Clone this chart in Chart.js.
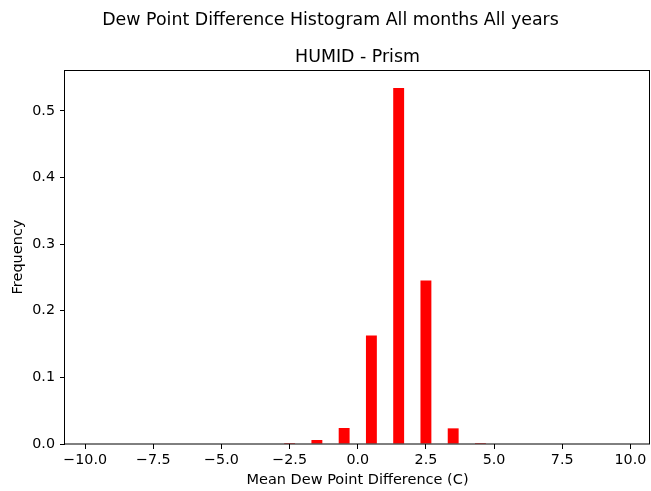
<!DOCTYPE html>
<html>
<head>
<meta charset="utf-8">
<script src="https://cdn.jsdelivr.net/npm/chart.js@4/dist/chart.umd.min.js"></script>
<style>
  html, body { margin: 0; padding: 0; background: #fff; }
  #wrap { width: 651px; height: 491px; }
</style>
</head>
<body>
<div id="wrap"><canvas id="histChart" width="651" height="491"></canvas></div>
<script>
// bin centres (C) and relative frequency
const binCenters = [-2.5, -1.5, -0.5, 0.5, 1.5, 2.5, 3.5, 4.5];
const frequency = [0.0015, 0.006, 0.024, 0.163, 0.5345, 0.2455, 0.0235, 0.0015];

const suptitle = "Dew Point Difference Histogram All months All years";
const plotTitle = "HUMID - Prism";
const xLabel = "Mean Dew Point Difference (C)";
const yLabel = "Frequency";

const FONT = "'DejaVu Sans', sans-serif";

function fmtTick(v) {
  let s = Number(v).toFixed(1);
  if (s === "-0.0") s = "0.0";
  return s.replace("-", "\u2212");
}

const framePlugin = {
  id: "frame",
  afterDraw(chart) {
    const { ctx, chartArea } = chart;
    ctx.save();
    ctx.strokeStyle = "#000";
    ctx.lineWidth = 1;
    ctx.strokeRect(chartArea.left - 0.5, chartArea.top + 0.5,
      chartArea.right - chartArea.left, chartArea.bottom - chartArea.top - 0.5);
    ctx.fillStyle = "#000";
    ctx.textAlign = "center";
    ctx.textBaseline = "alphabetic";
    ctx.font = "17.4px " + FONT;
    ctx.fillText(suptitle, 330.5, 25);
    ctx.fillText(plotTitle, (chartArea.left + chartArea.right) / 2, 62);
    ctx.restore();
  },
};

const points = binCenters.map((x, i) => ({ x, y: frequency[i] }));

new Chart(document.getElementById("histChart").getContext("2d"), {
  type: "bar",
  data: {
    datasets: [
      {
        data: points,
        backgroundColor: "#ff0000",
        borderWidth: 0,
        barPercentage: 0.4,
        categoryPercentage: 1.0,
      },
    ],
  },
  options: {
    responsive: false,
    animation: false,
    layout: { padding: { top: 70, right: 1, left: 0, bottom: 0 } },
    plugins: {
      legend: { display: false },
      tooltip: { enabled: false },
    },
    scales: {
      x: {
        type: "linear",
        offset: false,
        min: -10.74,
        max: 10.72,
        afterFit(scale) { scale.height = 47; },
        border: { display: false },
        grid: {
          offset: false,
          drawOnChartArea: false,
          drawTicks: true,
          tickLength: 5,
          tickColor: "#000",
        },
        ticks: {
          stepSize: 2.5,
          includeBounds: false,
          maxRotation: 0,
          autoSkip: false,
          padding: 3,
          color: "#000",
          font: { family: FONT, size: 14.3 },
          callback: fmtTick,
        },
        title: {
          display: true,
          text: xLabel,
          color: "#000",
          font: { family: FONT, size: 14.5 },
          padding: { top: 0, bottom: 2 },
        },
      },
      y: {
        min: 0,
        max: 0.5615,
        afterFit(scale) { scale.width = 65; },
        border: { display: false },
        grid: {
          drawOnChartArea: false,
          drawTicks: true,
          tickLength: 5,
          tickColor: "#000",
        },
        ticks: {
          stepSize: 0.1,
          includeBounds: false,
          padding: 5,
          color: "#000",
          font: { family: FONT, size: 14.3 },
          callback: fmtTick,
        },
        title: {
          display: true,
          text: yLabel,
          color: "#000",
          font: { family: FONT, size: 14.5 },
          padding: { top: 10, bottom: 0 },
        },
      },
    },
  },
  plugins: [framePlugin],
});
</script>
</body>
</html>
